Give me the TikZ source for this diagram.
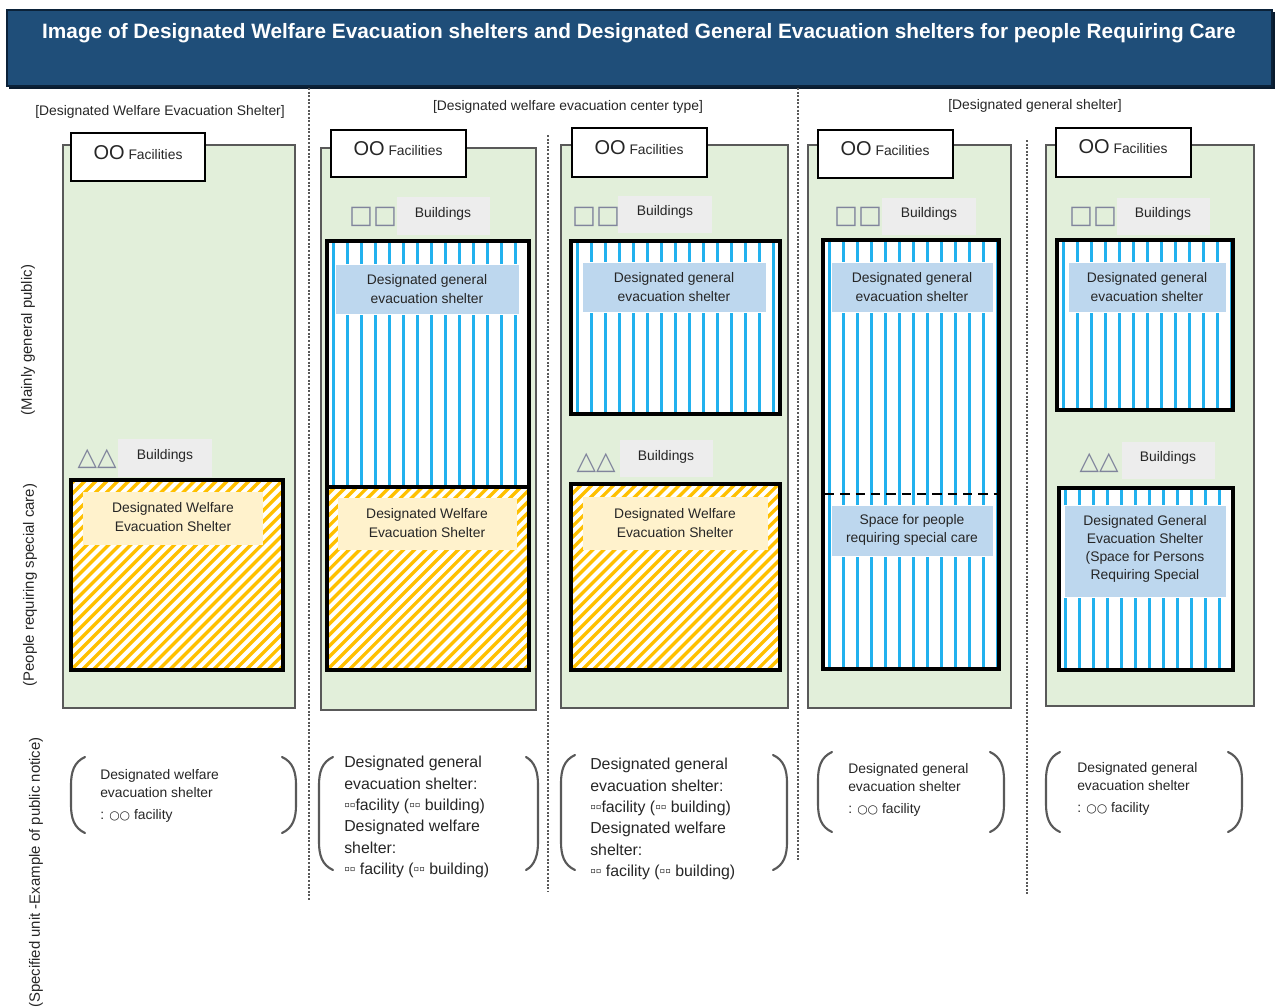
\documentclass[tikz,border=0pt]{standalone}
\usepackage{fontspec}
\setmainfont{Liberation Sans}
\newfontfamily\symfont{DejaVu Sans}

\definecolor{titleblue}{HTML}{1F4E79}
\definecolor{titleedge}{HTML}{0B2239}
\definecolor{panelgreen}{HTML}{E2EFDA}
\definecolor{panelline}{HTML}{595959}
\definecolor{labelblue}{HTML}{BDD7EE}
\definecolor{labelyellow}{HTML}{FFF2CC}
\definecolor{stripeblue}{HTML}{22B1EE}
\definecolor{stripegold}{HTML}{FFC000}
\definecolor{bldgray}{HTML}{EDEDED}
\definecolor{icongray}{HTML}{80849C}

\begin{document}
\begin{tikzpicture}[x=0.75pt, y=-0.75pt,
    every node/.style={font=\fontsize{10.4}{13.6}\selectfont, inner sep=0pt, text=black!85},
    panel/.style={draw=panelline, line width=1.5pt, fill=panelgreen},
    facbox/.style={draw=black, line width=0.9pt, fill=white},
    bldbox/.style={fill=bldgray},
    shelter/.style={draw=black, line width=3pt, fill=white},
    bluezone/.style={path picture={
        \foreach \k in {0,...,15}
            \draw[stripeblue, line width=2.3pt]
                ([xshift=\k*10.5pt+5pt]path picture bounding box.north west) --
                ([xshift=\k*10.5pt+5pt]path picture bounding box.south west);}},
    goldzone/.style={path picture={
        \foreach \k in {-20,...,22}
            \draw[stripegold, line width=2.5pt]
                ([xshift=\k*8.2pt]path picture bounding box.south west) -- ++(200pt,200pt);}},
    bluelabel/.style={fill=labelblue, draw=white, line width=0.6pt},
    goldlabel/.style={fill=labelyellow},
    label/.style={align=center},
    big/.style={font=\fontsize{15}{15}\selectfont},
    icon/.style={font=\symfont\fontsize{19}{19}\selectfont, text=icongray},
    divider/.style={draw=panelline, line width=1.4pt, dash pattern=on 1.5pt off 1.2pt},
    bracket/.style={draw=panelline, line width=1.6pt, line cap=round},
    sidenote/.style={rotate=90, font=\fontsize{11.2}{13}\selectfont},
    notice/.style={anchor=north west, align=left}]
    \useasboundingbox (0,0) rectangle (1280,1006);

    % title bar
    \fill[titleedge!80!black] (9,12) rectangle (1275,89);
    \draw[titleedge, fill=titleblue, line width=1pt] (7,10) rectangle (1272,86);
    \node[font=\bfseries\fontsize{15.6}{18}\selectfont, text=white] (title) at (639,33)
        {Image of Designated Welfare Evacuation shelters and Designated General Evacuation shelters for people Requiring Care};

    % dotted dividers between the shelter kinds
    \draw[divider] (309,88) -- (309,900);
    \draw[divider] (548,135) -- (548,892);
    \draw[divider] (798,88) -- (798,860);
    \draw[divider] (1027,140) -- (1027,895);

    \node (hdwelfare) at (160,112) {[Designated Welfare Evacuation Shelter]};
    \node (hdcenter) at (568,107) {[Designated welfare evacuation center type]};
    \node (hdgeneral) at (1035,106) {[Designated general shelter]};

    \node[sidenote] (sidepublic) at (28,340) {(Mainly general public)};
    \node[sidenote] (sidecare) at (30,585) {(People requiring special care)};
    \node[sidenote, anchor=east] (sidenotice) at (36,737) {(Specified unit -Example of public notice)};

    % welfare shelter only
    \draw[panel] (63,145) rectangle (295,708);
    \draw[facbox] (71,133) rectangle (205,181);
    \node (fac1) at (138,153) {{\fontsize{15}{15}\selectfont OO} Facilities};
    \fill[bldbox] (118,439) rectangle (212,477);
    \node (bld1) at (165,456) {Buildings};
    \node[icon] (tri1) at (97,459) {△△};
    \draw[shelter, goldzone] (71,480) rectangle (283,670);
    \fill[goldlabel] (83,492) rectangle (263,545);
    \node[label] (wel1) at (173,517) {Designated Welfare\\Evacuation Shelter};

    % welfare center type, same building
    \draw[panel] (321,148) rectangle (536,710);
    \draw[facbox] (331,130) rectangle (466,177);
    \node (fac2) at (398,149) {{\fontsize{15}{15}\selectfont OO} Facilities};
    \fill[bldbox] (397,197) rectangle (490,235);
    \node (bld2) at (443,214) {Buildings};
    \node[icon] (sq2) at (373,217) {□□};
    \draw[shelter, bluezone] (327,241) rectangle (529,487);
    \draw[shelter, goldzone] (327,487) rectangle (529,670);
    \fill[bluelabel] (335,264) rectangle (519,314);
    \node[label] (gen2) at (427,289) {Designated general\\evacuation shelter};
    \fill[goldlabel] (338,498) rectangle (517,550);
    \node[label] (wel2) at (427,523) {Designated Welfare\\Evacuation Shelter};

    % welfare center type, separate buildings
    \draw[panel] (561,145) rectangle (788,708);
    \draw[facbox] (572,128) rectangle (707,177);
    \node (fac3) at (639,148) {{\fontsize{15}{15}\selectfont OO} Facilities};
    \fill[bldbox] (618,196) rectangle (712,233);
    \node (bld3a) at (665,212) {Buildings};
    \node[icon] (sq3) at (596,217) {□□};
    \draw[shelter, bluezone] (571,241) rectangle (780,414);
    \fill[bluelabel] (582,262) rectangle (766,312);
    \node[label] (gen3) at (674,287) {Designated general\\evacuation shelter};
    \fill[bldbox] (620,440) rectangle (713,477);
    \node (bld3b) at (666,457) {Buildings};
    \node[icon] (tri3) at (596,463) {△△};
    \draw[shelter, goldzone] (571,484) rectangle (780,670);
    \fill[goldlabel] (583,497) rectangle (768,550);
    \node[label] (wel3) at (675,523) {Designated Welfare\\Evacuation Shelter};

    % general shelter with space inside
    \draw[panel] (808,145) rectangle (1011,708);
    \draw[facbox] (818,130) rectangle (953,178);
    \node (fac4) at (885,149) {{\fontsize{15}{15}\selectfont OO} Facilities};
    \fill[bldbox] (882,198) rectangle (976,235);
    \node (bld4) at (929,214) {Buildings};
    \node[icon] (sq4) at (858,217) {□□};
    \draw[shelter, bluezone] (823,240) rectangle (999,669);
    \draw[black, line width=2.2pt, dash pattern=on 7pt off 4.5pt] (825,494) -- (997,494);
    \fill[bluelabel] (831,262) rectangle (993,312);
    \node[label] (gen4) at (912,287) {Designated general\\evacuation shelter};
    \fill[bluelabel] (831,505) rectangle (993,556);
    \node[label] (care4) at (912,530) {Space for people\\requiring special care};

    % general shelter with a separate building
    \draw[panel] (1046,145) rectangle (1254,706);
    \draw[facbox] (1056,128) rectangle (1191,177);
    \node (fac5) at (1123,147) {{\fontsize{15}{15}\selectfont OO} Facilities};
    \fill[bldbox] (1117,198) rectangle (1210,235);
    \node (bld5a) at (1163,214) {Buildings};
    \node[icon] (sq5) at (1093,217) {□□};
    \draw[shelter, bluezone] (1057,240) rectangle (1233,410);
    \fill[bluelabel] (1068,262) rectangle (1226,312);
    \node[label] (gen5) at (1147,287) {Designated general\\evacuation shelter};
    \fill[bldbox] (1122,442) rectangle (1215,479);
    \node (bld5b) at (1168,458) {Buildings};
    \node[icon] (tri5) at (1099,463) {△△};
    \draw[shelter, bluezone] (1059,488) rectangle (1233,670);
    \fill[bluelabel] (1064,505) rectangle (1226,597);
    \node[label] (care5) at (1145,549) {Designated General\\Evacuation Shelter\\(Space for Persons\\Requiring Special};

    % notices in brackets
    \draw[bracket] (85,757) .. controls (74,762) and (71,772) .. (71,785) -- (71,805) .. controls (71,818) and (74,828) .. (85,833);
    \draw[bracket] (282,757) .. controls (293,762) and (296,772) .. (296,785) -- (296,805) .. controls (296,818) and (293,828) .. (282,833);
    \node[notice] (note1) at (100,769) {Designated welfare\\evacuation shelter\\[3pt]: {\symfont\fontsize{9}{9}\selectfont ○○} facility};

    \draw[bracket] (333,757) .. controls (322,762) and (319,772) .. (319,785) -- (319,842) .. controls (319,855) and (322,865) .. (333,870);
    \draw[bracket] (526,757) .. controls (535,762) and (538,772) .. (538,785) -- (538,842) .. controls (538,855) and (535,865) .. (526,870);
    \node[notice, font=\fontsize{11.9}{16}\selectfont] (note2) at (344,756)
        {Designated general\\evacuation shelter:\\▫▫facility (▫▫ building)\\Designated welfare\\shelter:\\▫▫ facility (▫▫ building)};

    \draw[bracket] (575,755) .. controls (564,760) and (561,770) .. (561,783) -- (561,842) .. controls (561,855) and (564,865) .. (575,870);
    \draw[bracket] (773,755) .. controls (784,760) and (787,770) .. (787,783) -- (787,842) .. controls (787,855) and (784,865) .. (773,870);
    \node[notice, font=\fontsize{11.9}{16}\selectfont] (note3) at (590,758)
        {Designated general\\evacuation shelter:\\▫▫facility (▫▫ building)\\Designated welfare\\shelter:\\▫▫ facility (▫▫ building)};

    \draw[bracket] (832,752) .. controls (821,757) and (818,767) .. (818,780) -- (818,804) .. controls (818,817) and (821,827) .. (832,832);
    \draw[bracket] (990,752) .. controls (1001,757) and (1004,767) .. (1004,780) -- (1004,804) .. controls (1004,817) and (1001,827) .. (990,832);
    \node[notice] (note4) at (848,763) {Designated general\\evacuation shelter\\[3pt]: {\symfont\fontsize{9}{9}\selectfont ○○} facility};

    \draw[bracket] (1060,752) .. controls (1049,757) and (1046,767) .. (1046,780) -- (1046,804) .. controls (1046,817) and (1049,827) .. (1060,832);
    \draw[bracket] (1228,752) .. controls (1239,757) and (1242,767) .. (1242,780) -- (1242,804) .. controls (1242,817) and (1239,827) .. (1228,832);
    \node[notice] (note5) at (1077,762) {Designated general\\evacuation shelter\\[3pt]: {\symfont\fontsize{9}{9}\selectfont ○○} facility};
\end{tikzpicture}
\end{document}
